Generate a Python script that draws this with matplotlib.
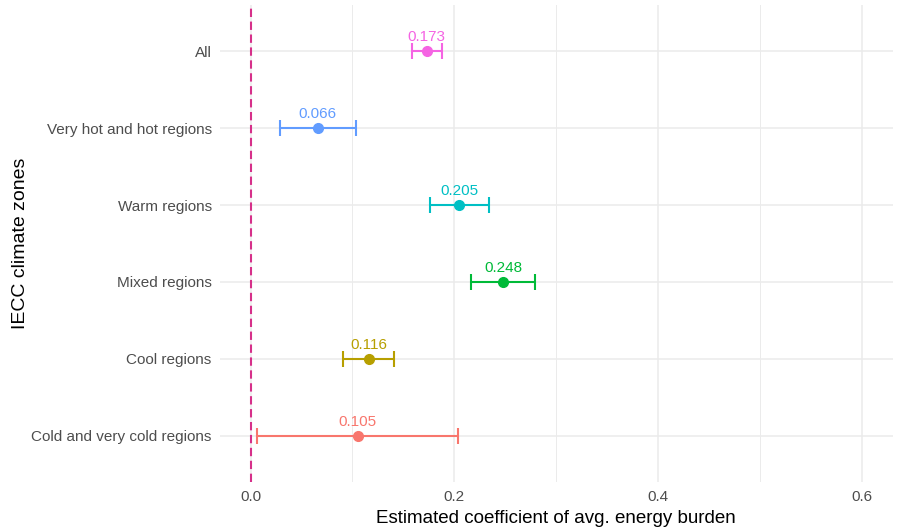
import matplotlib
matplotlib.use("Agg")
import matplotlib.pyplot as plt
from matplotlib.ticker import MultipleLocator

zones = ["Cold and very cold regions", "Cool regions", "Mixed regions",
         "Warm regions", "Very hot and hot regions", "All"]
estimates = [0.105, 0.116, 0.248, 0.205, 0.066, 0.173]
lower = [0.0065, 0.091, 0.216, 0.176, 0.029, 0.158]
upper = [0.204, 0.141, 0.279, 0.234, 0.103, 0.188]
colors = ["#F8766D", "#B79F00", "#00BA38", "#00BFC4", "#619CFF", "#F564E3"]

plt.rcParams['font.family'] = ['Liberation Sans', 'DejaVu Sans']

fig = plt.figure(figsize=(8.97, 5.29), dpi=100)
ax = fig.add_axes([0.2453, 0.0889, 0.7497, 0.9016])

ypos = list(range(len(zones)))
for y, est, lo, hi, c in zip(ypos, estimates, lower, upper, colors):
    ax.errorbar(est, y, xerr=[[est - lo], [hi - est]], fmt='o', color=c,
                ms=7, elinewidth=1.5, capsize=6, capthick=1.5, zorder=3)
    ax.annotate(f"{est:.3f}", (est, y), xytext=(0, 5), textcoords='offset points',
                ha='center', va='bottom', color=c, fontsize=11)

ax.axvline(0, color="#D6308A", linestyle=(0, (4, 2.2)), linewidth=1.5, zorder=2)

ax.set_xlim(-0.03, 0.63)
ax.set_ylim(-0.6, len(zones) - 1 + 0.6)
ax.set_yticks(ypos)
ax.set_yticklabels(zones)
ax.xaxis.set_minor_locator(MultipleLocator(0.1))
ax.set_xticks([0.0, 0.2, 0.4, 0.6])
ax.set_xticklabels(["0.0", "0.2", "0.4", "0.6"])

ax.grid(which='major', color="#EBEBEB", linewidth=1.1, zorder=0)
ax.grid(which='minor', axis='x', color="#EBEBEB", linewidth=0.7, zorder=0)
ax.set_axisbelow(True)
for s in ax.spines.values():
    s.set_visible(False)
ax.tick_params(which='both', length=0, labelsize=11, labelcolor="#4D4D4D", pad=6)

ax.set_xlabel("Estimated coefficient of avg. energy burden", fontsize=13.5, labelpad=4)
ax.set_ylabel("IECC climate zones", fontsize=14)
ax.yaxis.set_label_coords(-0.284, 0.5)

fig.savefig("out.png", dpi=100)
